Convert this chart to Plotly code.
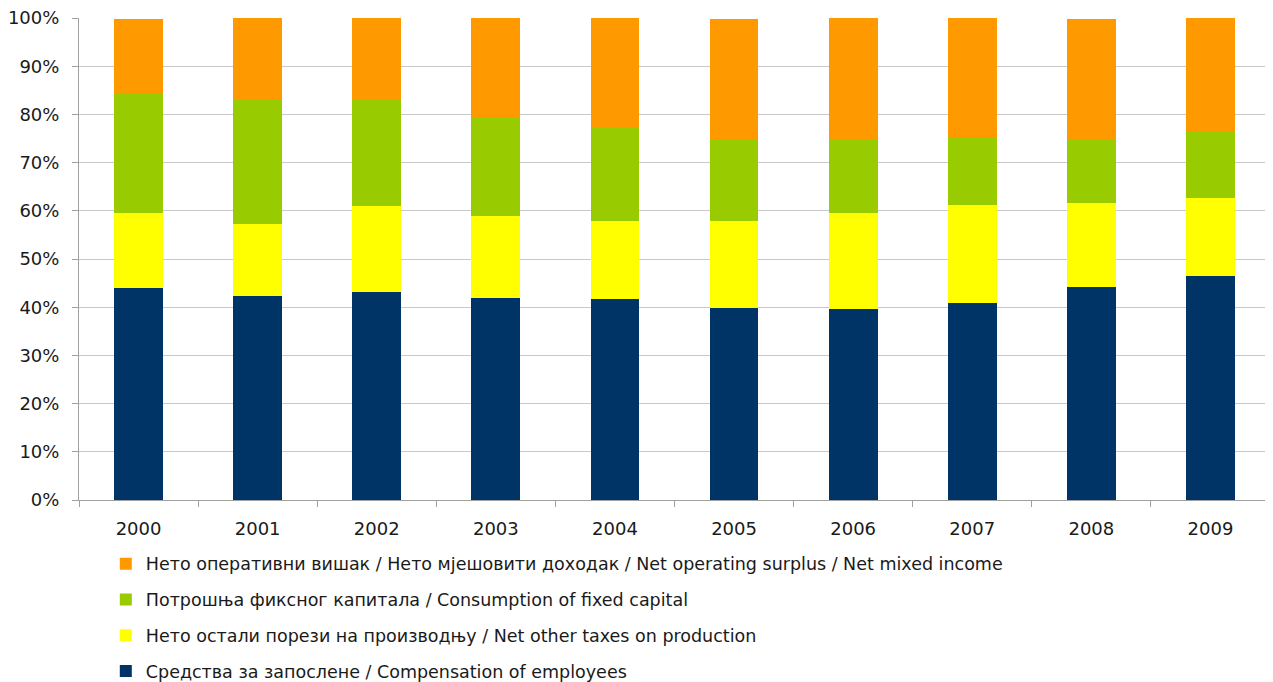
import plotly.graph_objects as go

years = ["2000", "2001", "2002", "2003", "2004", "2005", "2006", "2007", "2008", "2009"]

compensation = [43.9, 42.3, 43.1, 41.9, 41.7, 39.8, 39.6, 40.9, 44.2, 46.4]
net_taxes = [15.6, 15.0, 17.9, 17.0, 16.2, 18.1, 19.9, 20.3, 17.4, 16.2]
fixed_capital = [24.9, 25.9, 22.2, 20.4, 19.2, 16.7, 15.1, 14.2, 13.0, 14.0]
surplus = [15.4, 16.8, 16.8, 20.7, 22.9, 25.2, 25.4, 24.6, 25.2, 23.4]

names = [
    "Средства за запослене / Compensation of employees",
    "Нето остали порези на производњу / Net other taxes on production",
    "Потрошња фиксног капитала / Consumption of fixed capital",
    "Нето оперативни вишак / Нето мјешовити доходак / Net operating surplus / Net mixed income",
]
colors = ["#003366", "#FFFF00", "#99CC00", "#FF9900"]
series = [compensation, net_taxes, fixed_capital, surplus]

fig = go.Figure()
for i, (n, c, s) in enumerate(zip(names, colors, series)):
    fig.add_trace(go.Bar(
        x=years, y=s, name=n, marker=dict(color=c, line=dict(width=0)),
        legendgroup=f"g{i}", legendrank=10 - i,
    ))

# page body has an 8px default margin, so the figure is sized/offset to compensate
fig.update_layout(
    barmode="stack",
    bargap=0.59,
    width=1265, height=674,
    margin=dict(l=71, r=3, t=10, b=182, autoexpand=False),
    plot_bgcolor="white",
    paper_bgcolor="white",
    font=dict(family="DejaVu Sans", size=17, color="#1a1a1a"),
    legend=dict(
        orientation="v",
        traceorder="grouped",
        tracegroupgap=10,
        x=0.0225,
        xanchor="left",
        y=-0.095,
        yanchor="top",
        font=dict(size=17.5),
        bgcolor="rgba(0,0,0,0)",
        itemwidth=30,
    ),
    xaxis=dict(
        showline=True, linecolor="#a0a0a0", linewidth=1,
        ticks="outside", tickson="boundaries", ticklen=6, tickcolor="#a0a0a0",
        showgrid=False, automargin=False, tickfont=dict(size=18),
        ticklabelstandoff=12,
    ),
    yaxis=dict(
        range=[0, 100], dtick=10, ticksuffix="%",
        showline=True, linecolor="#a0a0a0", linewidth=1,
        ticks="outside", ticklen=6, tickcolor="#a0a0a0",
        showgrid=True, gridcolor="#c8c8c8", gridwidth=1,
        zeroline=False, automargin=False, tickfont=dict(size=18),
        ticklabeloverflow="allow", ticklabelstandoff=9,
    ),
)

fig.write_html("out.html")
